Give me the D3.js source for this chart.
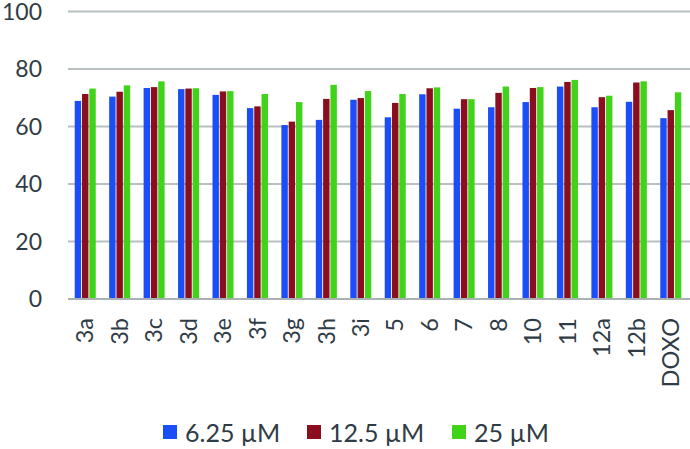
<!DOCTYPE html>
<html><head><meta charset="utf-8">
<script src="https://cdn.jsdelivr.net/npm/d3@7"></script>
<style>html,body{margin:0;padding:0;background:#fff;}svg{display:block;}</style>
</head><body><svg id="c" width="690" height="449"></svg>
<script>
const categories = ["3a","3b","3c","3d","3e","3f","3g","3h","3i","5","6","7","8","10","11","12a","12b","DOXO"];
const seriesNames = ["6.25 µM","12.5 µM","25 µM"];
const s625 = [68.9,70.4,73.4,73.0,71.0,66.4,60.5,62.3,69.3,63.2,71.2,66.2,66.7,68.5,73.9,66.7,68.6,62.9];
const s125 = [71.3,72.1,73.7,73.2,72.2,67.0,61.7,69.6,69.9,68.2,73.3,69.5,71.7,73.4,75.5,70.2,75.3,65.7];
const s25  = [73.2,74.3,75.7,73.3,72.3,71.3,68.5,74.5,72.3,71.3,73.6,69.5,73.9,73.7,76.2,70.7,75.7,71.9];
const yTicks = [0,20,40,60,80,100];
const colors = ["#1b4ef6","#8b0e1e","#41d21a"];
const series = [s625, s125, s25];

const svg = d3.select("#c");
const font = "Lato, 'Open Sans', sans-serif";
const txt = "#2f3c45";
const x0 = d3.scaleBand().domain(categories).range([68, 688]).paddingInner(0.39).paddingOuter(0.195);
const x1 = d3.scaleBand().domain([0,1,2]).range([0, x0.bandwidth()]).paddingInner(0.12);
const y = d3.scaleLinear().domain([0,100]).range([299, 11.5]);

// gridlines
svg.append("g").selectAll("line").data(yTicks.filter(d=>d>0)).join("line")
  .attr("x1",68).attr("x2",690).attr("y1",d=>y(d)).attr("y2",d=>y(d))
  .attr("stroke","#b7bfc1").attr("stroke-width",2);

// y labels
svg.append("g").selectAll("text").data(yTicks).join("text")
  .attr("x",42).attr("y",d=>y(d)+8.3).attr("text-anchor","end")
  .attr("font-family",font).attr("font-size",23).attr("fill",txt).text(d=>d);

// bars
const g = svg.append("g");
categories.forEach((c,i)=>{
  series.forEach((s,k)=>{
    g.append("rect").attr("x",x0(c)+x1(k)).attr("width",x1.bandwidth())
      .attr("y",y(s[i])).attr("height",y(0)-y(s[i])).attr("fill",colors[k]);
  });
});

// x axis line
svg.append("line").attr("x1",68).attr("x2",690).attr("y1",y(0)).attr("y2",y(0))
  .attr("stroke","#a9b1b4").attr("stroke-width",2);

// x labels
svg.append("g").selectAll("text").data(categories).join("text")
  .attr("transform",d=>`translate(${x0(d)+x0.bandwidth()/2},318) rotate(-90)`)
  .attr("text-anchor","end").attr("dy","0.35em")
  .attr("font-family",font).attr("font-size",23.5).attr("fill",txt).text(d=>d);

// legend
const legX = [163, 307, 452];
const lg = svg.append("g");
seriesNames.forEach((n,k)=>{
  lg.append("rect").attr("x",legX[k]).attr("y",425).attr("width",14).attr("height",14).attr("fill",colors[k]);
  lg.append("text").attr("x",legX[k]+22).attr("y",441.5).attr("font-family",font).attr("font-size",25)
    .attr("fill",txt).text(n);
});
</script></body></html>
